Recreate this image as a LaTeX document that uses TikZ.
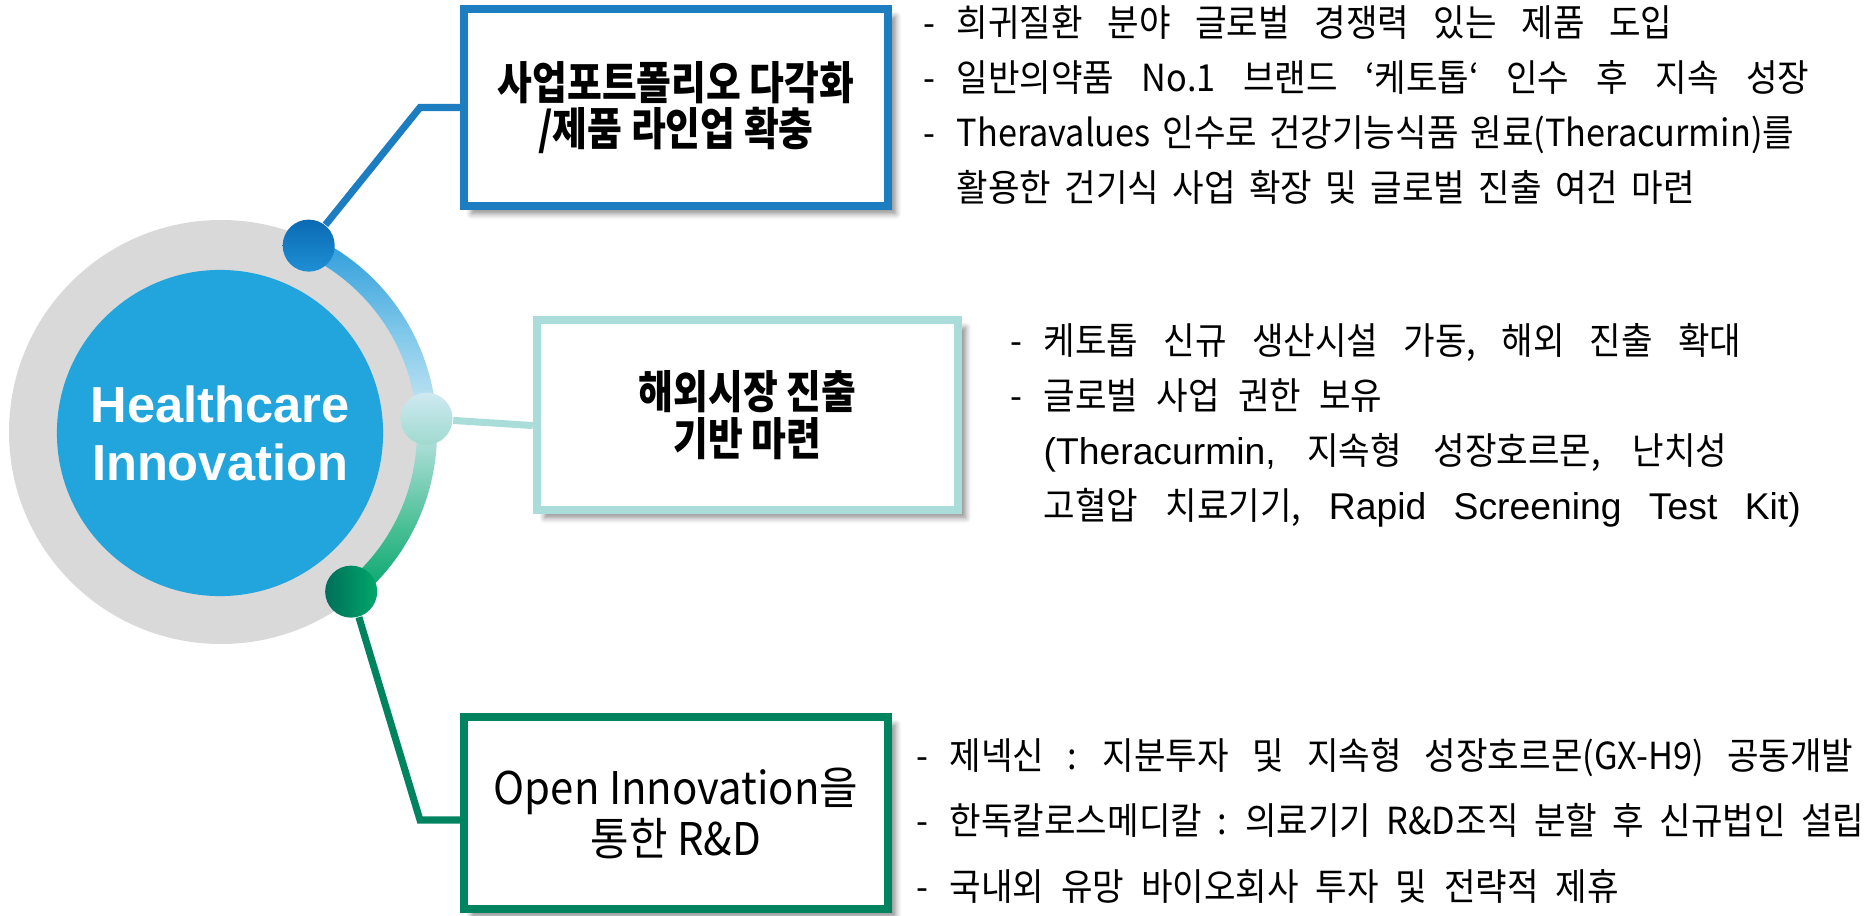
\documentclass[tikz,border=0pt]{standalone}
\usepackage{fontspec}
\setmainfont{Noto Sans CJK KR}
\newfontfamily\titlefont[FakeStretch=0.84]{Noto Sans CJK KR}
\newfontfamily\plaintitlefont[FakeStretch=0.93]{Noto Sans CJK KR}
\newfontfamily\bodyfont[FakeStretch=0.92]{Noto Sans CJK KR}
\newfontfamily\latinfont{Liberation Sans}
\newfontfamily\hubfont{Liberation Sans}
\usepackage{tikz}
\usetikzlibrary{calc,shadows,shadows.blur}

\definecolor{hubblue}{HTML}{22A5DD}
\definecolor{ringgray}{HTML}{D9D9D9}
\definecolor{boxblue}{HTML}{1C7EC1}
\definecolor{boxteal}{HTML}{AADDDA}
\definecolor{boxgreen}{HTML}{00845F}
\definecolor{arcA}{HTML}{2A9BDA}
\definecolor{arcB}{HTML}{7EC7EA}
\definecolor{arcC}{HTML}{C5E5F3}
\definecolor{arcD}{HTML}{A7DCD4}
\definecolor{arcE}{HTML}{52C29A}
\definecolor{arcF}{HTML}{00A46A}
\definecolor{dotblueA}{HTML}{0B6AB4}
\definecolor{dotblueB}{HTML}{1E8FD4}
\definecolor{dottealA}{HTML}{CFE9F1}
\definecolor{dottealB}{HTML}{9FDACE}
\definecolor{dotgreenA}{HTML}{006E58}
\definecolor{dotgreenB}{HTML}{00A86B}

\pgfdeclareverticalshading{arcfade}{100bp}{color(0bp)=(arcF); color(25bp)=(arcF); color(36bp)=(arcE); color(46bp)=(arcD); color(51bp)=(arcC); color(62bp)=(arcB); color(75bp)=(arcA); color(100bp)=(arcA)}

\newcommand{\itemdash}{-\hspace{6pt}}

\begin{document}
\begin{tikzpicture}
[x=0.01cm, y=0.01cm,
titlebox/.style={rectangle, fill=white, line width=2.3pt, minimum width=4.24cm, minimum height=1.97cm, inner sep=0pt, align=center,
  font=\titlefont\bfseries\fontsize{12.8}{13.3}\selectfont,
  blur shadow={shadow xshift=2.2pt, shadow yshift=-2.2pt, shadow blur radius=1.6pt, shadow blur steps=6, shadow opacity=45}},
infotext/.style={anchor=west, align=left, inner sep=0pt, font={\bodyfont\fontsize{10.6}{15.55}\selectfont\spaceskip=7pt\relax}},
hubdot/.style={circle, minimum size=0.52cm, inner sep=0pt},
link/.style={line width=2pt}]
\useasboundingbox (0,0) rectangle (1870,-915);

% centre circle and ring
\coordinate (hubc) at (221,-432);
\fill[ringgray] (hubc) circle[radius=212];
\shade[shading=arcfade] ($(hubc)+(64.8:216)$) arc[start angle=64.8, end angle=-50.8, radius=216] -- ++(129.2:20) arc[start angle=-50.8, end angle=64.8, radius=196] -- cycle;
\node[circle, fill=hubblue, minimum size=3.26cm, inner sep=0pt, align=center, text=white, font=\hubfont\bfseries\fontsize{14.4}{16.5}\selectfont] (hub) at (220,-433) {Healthcare\\Innovation};

\node[hubdot, top color=dotblueA, bottom color=dotblueB] (d1) at ($(hubc)+(64.8:206)$) {};
\node[hubdot, top color=dottealA, bottom color=dottealB] (d2) at ($(hubc)+(3.7:206)$) {};
\node[hubdot, left color=dotgreenA, right color=dotgreenB] (d3) at ($(hubc)+(-50.8:206)$) {};

% boxes
\node[titlebox, draw=boxblue] (b1) at (676,-107.5) {사업포트폴리오 다각화\\/제품 라인업 확충};
\node[titlebox, draw=boxteal, minimum width=4.21cm, minimum height=1.90cm] (b2) at (747.5,-415) {해외시장 진출\\기반 마련};
\node[titlebox, draw=boxgreen, minimum height=1.92cm, font=\plaintitlefont\fontsize{12.8}{13.3}\selectfont] (b3) at (676,-813) {Open Innovation을\\통한 R\&D};

% connectors
\coordinate (k1) at (420,-107.5);
\coordinate (k3) at (420,-820);
\draw[link, boxblue] (d1) -- (k1) -- (b1.west);
\draw[link, boxteal] (d2) -- ([yshift=-3pt]b2.west);
\draw[link, boxgreen] (d3) -- (k3) -- (k3 -| b3.west);

% details
\node[infotext] (t1) at (923,-105) {\itemdash 희귀질환 분야 글로벌 경쟁력 있는 제품 도입\\
\itemdash {\spaceskip=7.8pt\relax 일반의약품 No.1 브랜드 ‘케토톱‘ 인수 후 지속 성장}\\
\itemdash {\spaceskip=3.4pt\relax Theravalues 인수로 건강기능식품 원료(Theracurmin)를}\\
\phantom{\itemdash}{\spaceskip=3.8pt\relax 활용한 건기식 사업 확장 및 글로벌 진출 여건 마련}};
\node[infotext, font={\bodyfont\fontsize{10.6}{15.65}\selectfont\spaceskip=7.2pt\relax}] (t2) at (1010,-425.5) {\itemdash 케토톱 신규 생산시설 가동, 해외 진출 확대\\
\itemdash {\spaceskip=5.2pt\relax 글로벌 사업 권한 보유}\\
\phantom{\itemdash}{\spaceskip=9pt\relax{\latinfont (Theracurmin,} 지속형 성장호르몬, 난치성}\\
\phantom{\itemdash}{\spaceskip=7.8pt\relax 고혈압 치료기기, {\latinfont Rapid Screening Test Kit)}}};
\node[infotext, font={\bodyfont\fontsize{10.6}{18.6}\selectfont\spaceskip=4.8pt\relax}] (t3) at (916,-820.5) {\itemdash {\spaceskip=6.6pt\relax 제넥신 : 지분투자 및 지속형 성장호르몬(GX-H9) 공동개발}\\
\itemdash {\spaceskip=4.4pt\relax 한독칼로스메디칼 : 의료기기 R\&D조직 분할 후 신규법인 설립}\\
\itemdash 국내외 유망 바이오회사 투자 및 전략적 제휴};
\end{tikzpicture}
\end{document}
